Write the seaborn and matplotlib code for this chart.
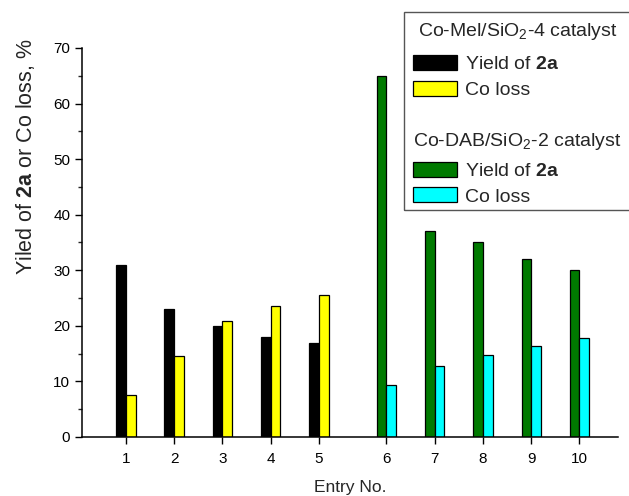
import matplotlib
matplotlib.use("Agg")
import matplotlib.pyplot as plt
import seaborn as sns
import pandas as pd
from matplotlib.patches import Patch, Rectangle
from matplotlib.ticker import MultipleLocator

sns.set_style("ticks")
plt.rcParams['font.family'] = ['Liberation Sans', 'DejaVu Sans']
plt.rcParams['mathtext.fontset'] = 'custom'
plt.rcParams['mathtext.rm'] = 'Liberation Sans'
plt.rcParams['mathtext.it'] = 'Liberation Sans:italic'
plt.rcParams['mathtext.bf'] = 'Liberation Sans:bold'

# Data
entries_mel = [1, 2, 3, 4, 5]
entries_dab = [6, 7, 8, 9, 10]
pos_mel = [1, 2, 3, 4, 5]
pos_dab = [6.4, 7.4, 8.4, 9.4, 10.4]
yield_mel = [31, 23, 20, 18, 17]
loss_mel = [7.5, 14.6, 20.9, 23.6, 25.6]
yield_dab = [65, 37, 35, 32, 30]
loss_dab = [9.3, 12.7, 14.7, 16.4, 17.8]

c_black, c_yellow, c_green, c_cyan = "#000000", "#FFFF00", "#007A00", "#00FFFF"

fig = plt.figure(figsize=(6.29, 4.96), dpi=100)
ax = fig.add_axes([82/629, 59/496, (618-82)/629, (437-48)/496])

bw = 0.2
series = [
    ([p - bw/2 for p in pos_mel], yield_mel, c_black),
    ([p + bw/2 for p in pos_mel], loss_mel, c_yellow),
    ([p - bw/2 for p in pos_dab], yield_dab, c_green),
    ([p + bw/2 for p in pos_dab], loss_dab, c_cyan),
]
for xs, ys, col in series:
    df = pd.DataFrame({"x": xs, "y": ys})
    sns.barplot(data=df, x="x", y="y", native_scale=True, width=bw,
                color=col, edgecolor="black", linewidth=0.9,
                saturation=1, ax=ax, errorbar=None)

ax.set_xlim(0.09, 11.2)
ax.set_ylim(0, 70)
ax.set_xticks(pos_mel + pos_dab)
ax.set_xticklabels([str(e) for e in entries_mel + entries_dab])
ax.yaxis.set_major_locator(MultipleLocator(10))
ax.yaxis.set_minor_locator(MultipleLocator(5))
ax.tick_params(axis='both', which='major', labelsize=11, length=5, width=1, direction='out', colors='black')
ax.tick_params(axis='x', which='major', pad=6)
ax.tick_params(axis='y', which='minor', length=3, width=1, direction='out')
for s in ['top', 'right']:
    ax.spines[s].set_visible(False)
for s in ['left', 'bottom']:
    ax.spines[s].set_linewidth(1.1)
    ax.spines[s].set_color('black')

ax.set_xlabel("Entry No.", fontsize=12.5, labelpad=10)
ax.set_ylabel("Yiled of $\\mathbf{2a}$ or Co loss, %", fontsize=15.5)
ax.yaxis.set_label_coords((37 - 82) / 536, (437 - 157) / 389)

fs = 14
h1 = [Patch(facecolor=c_black, edgecolor='black', linewidth=0.9),
      Patch(facecolor=c_yellow, edgecolor='black', linewidth=0.9)]
h2 = [Patch(facecolor=c_green, edgecolor='black', linewidth=0.9),
      Patch(facecolor=c_cyan, edgecolor='black', linewidth=0.9)]
labels = ["Yield of $\\mathbf{2a}$", "Co loss"]
common = dict(loc='upper left', frameon=False, fontsize=fs,
              handlelength=2.27, handleheight=0.82,
              handletextpad=0.41, labelspacing=0.38, borderpad=0, borderaxespad=0)
fig.legend(h1, labels, bbox_to_anchor=(413/629, 1 - 55/496), **common)
fig.legend(h2, labels, bbox_to_anchor=(413/629, 1 - 161.5/496), **common)
fig.text(418/629, 1 - 32/496, "Co-Mel/SiO$_2$-4 catalyst", fontsize=fs, va='center', ha='left')
fig.text(413/629, 1 - 141/496, "Co-DAB/SiO$_2$-2 catalyst", fontsize=fs, va='center', ha='left')
fig.add_artist(Rectangle((404/629, 1 - 210/496), 0.5, (210-12)/496,
                         transform=fig.transFigure, fill=False,
                         edgecolor='#555555', linewidth=1))

fig.savefig("out.png", dpi=100)
